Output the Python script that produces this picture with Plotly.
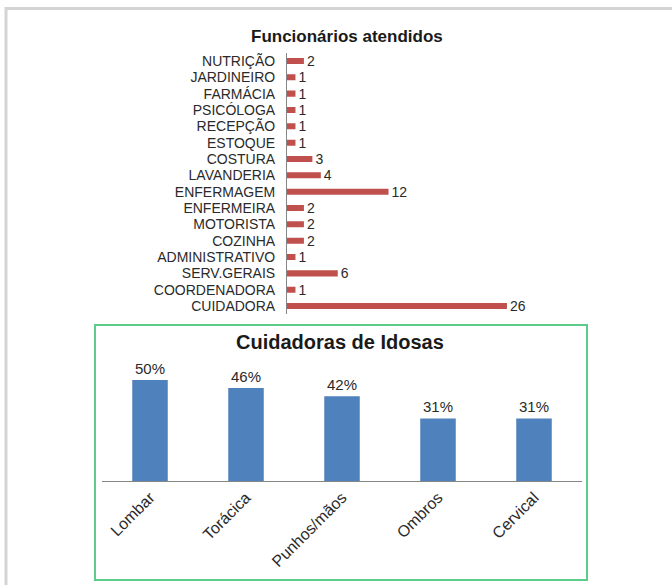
import plotly.graph_objects as go

W, H = 672, 585

funcoes = ["NUTRIÇÃO", "JARDINEIRO", "FARMÁCIA", "PSICÓLOGA", "RECEPÇÃO", "ESTOQUE",
           "COSTURA", "LAVANDERIA", "ENFERMAGEM", "ENFERMEIRA", "MOTORISTA", "COZINHA",
           "ADMINISTRATIVO", "SERV.GERAIS", "COORDENADORA", "CUIDADORA"]
quantidades = [2, 1, 1, 1, 1, 1, 3, 4, 12, 2, 2, 2, 1, 6, 1, 26]

regioes = ["Lombar", "Torácica", "Punhos/mãos", "Ombros", "Cervical"]
percentuais = [50, 46, 42, 31, 31]
rotulos_pct = ["50%", "46%", "42%", "31%", "31%"]

def px_x(p):
    return p / W

def px_y(p):
    return 1 - p / H

FONT = "Liberation Sans, Arial"

fig = go.Figure()

fig.add_trace(go.Bar(
    y=funcoes, x=quantidades, orientation="h",
    marker=dict(color="#C0504D", line=dict(width=0)),
    text=[str(v) for v in quantidades], textposition="outside", constraintext="none",
    textfont=dict(family=FONT, size=14, color="#2a2a2a"),
    cliponaxis=False, xaxis="x", yaxis="y", showlegend=False,
))

fig.add_trace(go.Bar(
    x=regioes, y=percentuais,
    marker=dict(color="#4F81BD", line=dict(width=0)),
    text=rotulos_pct, textposition="outside", constraintext="none",
    textfont=dict(family=FONT, size=15, color="#2a2a2a"),
    cliponaxis=False, xaxis="x2", yaxis="y2", showlegend=False,
))

fig.update_layout(
    width=W, height=H,
    margin=dict(l=0, r=0, t=0, b=0),
    paper_bgcolor="white", plot_bgcolor="rgba(0,0,0,0)",
    bargap=0.63,
    xaxis=dict(domain=[px_x(287), px_x(540.8)], range=[0, 30], visible=False, fixedrange=True),
    yaxis=dict(domain=[px_y(314.2), px_y(52.8)], autorange="reversed", type="category",
               tickmode="array", tickvals=funcoes, ticktext=funcoes,
               showline=True, linecolor="#868686", linewidth=1, ticks="",
               showgrid=False, zeroline=False, ticklabelstandoff=8,
               tickfont=dict(family=FONT, size=14, color="#2a2a2a")),
    xaxis2=dict(domain=[px_x(102), px_x(582)], anchor="y2", showline=True, linecolor="#868686",
                linewidth=1, ticks="", tickangle=-45, showgrid=False,
                tickfont=dict(family=FONT, size=16, color="#2a2a2a")),
    yaxis2=dict(domain=[px_y(481), px_y(359.8)], anchor="x2", range=[0, 60], visible=False),
    annotations=[
        dict(text="<b>Funcionários atendidos</b>", xref="paper", yref="paper",
             x=px_x(347), y=px_y(36), showarrow=False, xanchor="center", yanchor="middle",
             font=dict(family=FONT, size=17, color="#1a1a1a")),
        dict(text="<b>Cuidadoras de Idosas</b>", xref="paper", yref="paper",
             x=px_x(340), y=px_y(342), showarrow=False, xanchor="center", yanchor="middle",
             font=dict(family=FONT, size=20, color="#1a1a1a")),
    ],
    shapes=[
        dict(type="rect", xref="paper", yref="paper", x0=px_x(6), x1=px_x(700),
             y0=px_y(620), y1=px_y(8.5), line=dict(color="#D4D4D4", width=3)),
        dict(type="rect", xref="paper", yref="paper", x0=px_x(95), x1=px_x(587),
             y0=px_y(580), y1=px_y(325), line=dict(color="#5DCB8A", width=2)),
    ],
)

fig.write_html("out.html", config={"displayModeBar": False},
               post_script="document.body.style.margin='0';")
